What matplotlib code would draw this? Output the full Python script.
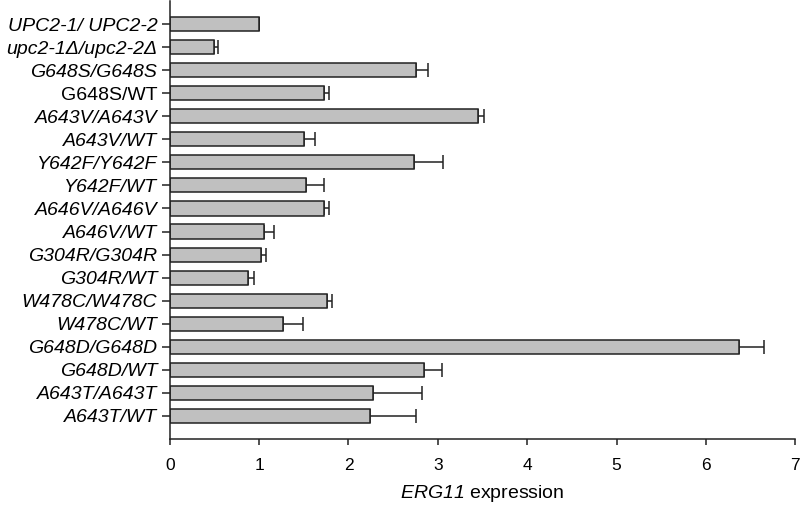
import matplotlib
matplotlib.use("Agg")
import matplotlib.pyplot as plt
import numpy as np

plt.rcParams['font.family'] = ['Liberation Sans', 'DejaVu Sans']
plt.rcParams['mathtext.fontset'] = 'custom'
plt.rcParams['mathtext.it'] = 'Liberation Sans:italic'
plt.rcParams['mathtext.rm'] = 'Liberation Sans:italic'

categories = [
    "UPC2-1/ UPC2-2", "upc2-1Δ/upc2-2Δ", "G648S/G648S", "G648S/WT",
    "A643V/A643V", "A643V/WT", "Y642F/Y642F", "Y642F/WT",
    "A646V/A646V", "A646V/WT", "G304R/G304R", "G304R/WT",
    "W478C/W478C", "W478C/WT", "G648D/G648D", "G648D/WT",
    "A643T/A643T", "A643T/WT",
]
italic_labels = [True, True, True, False, True, True, True, True, True,
                 True, True, True, True, True, True, True, True, True]
expression = [1.00, 0.50, 2.75, 1.73, 3.45, 1.50, 2.73, 1.52, 1.73,
              1.06, 1.02, 0.88, 1.76, 1.27, 6.37, 2.85, 2.27, 2.24]
errors = [0.00, 0.045, 0.135, 0.05, 0.065, 0.12, 0.325, 0.21, 0.05,
          0.105, 0.06, 0.063, 0.06, 0.22, 0.28, 0.20, 0.555, 0.51]
x_ticks = [0, 1, 2, 3, 4, 5, 6, 7]

fig = plt.figure(figsize=(8, 5.07), dpi=100)
ax = fig.add_axes([0.2122, 0.1345, 0.9941 - 0.2122, 0.8645])

y = np.arange(len(categories))
ax.barh(y, expression, height=0.61, color='#c0c0c0', edgecolor='#222222',
        linewidth=1.1, zorder=2)
ax.errorbar(expression, y, xerr=[np.zeros(len(errors)), errors], fmt='none',
            ecolor='#222222', elinewidth=1.1, capsize=4.7, capthick=1.1, zorder=1)

ax.set_ylim(len(categories), -1.03)
ax.set_xlim(0, 7)
ax.set_xticks(x_ticks)
ax.set_xticklabels([str(t) for t in x_ticks], fontsize=12.5)
ax.set_yticks(y)
ax.set_yticklabels(categories, fontsize=14)
for lbl, it in zip(ax.get_yticklabels(), italic_labels):
    lbl.set_fontstyle('italic' if it else 'normal')

for s in ['top', 'right']:
    ax.spines[s].set_visible(False)
for s in ['left', 'bottom']:
    ax.spines[s].set_linewidth(1.1)
    ax.spines[s].set_color('#222222')
ax.tick_params(axis='y', length=6, width=1.1, pad=3, color='#222222')
ax.tick_params(axis='x', length=4.5, width=1.1, pad=9.5, color='#222222')
ax.set_xlabel(r'$\mathrm{ERG11}$ expression', fontsize=14, labelpad=7)

fig.savefig('out.png', dpi=100)
